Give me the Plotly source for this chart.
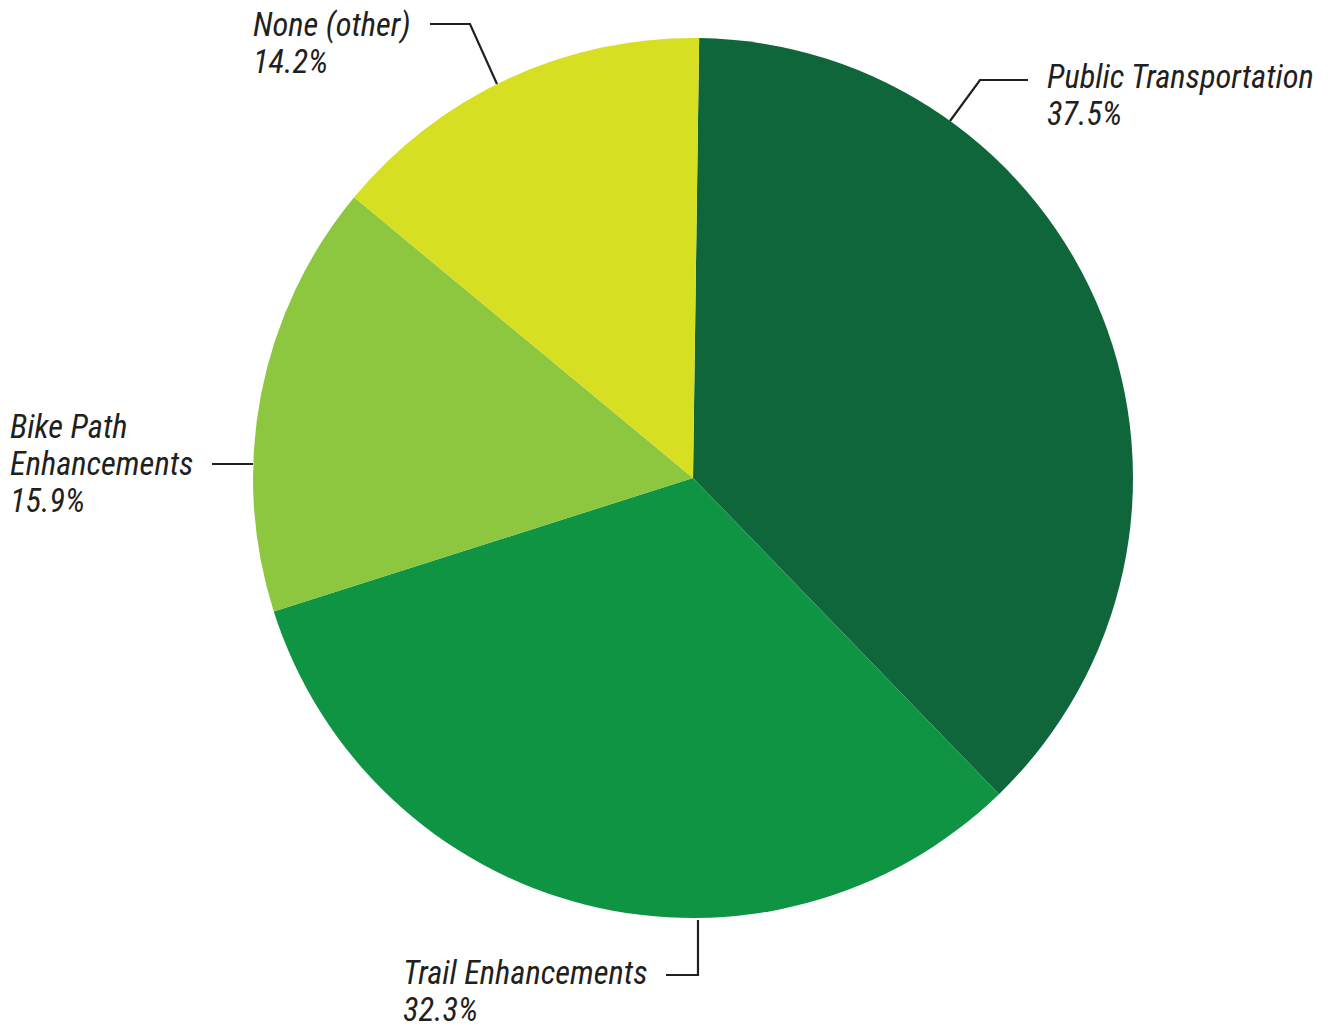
import plotly.graph_objects as go

categories = ["Public Transportation", "Trail Enhancements", "Bike Path Enhancements", "None (other)"]
label_lines = [["Public Transportation"], ["Trail Enhancements"], ["Bike Path", "Enhancements"], ["None (other)"]]
values = [37.5, 32.3, 15.9, 14.2]
colors = ["#10663B", "#0F9444", "#8DC63F", "#D7DF23"]

W, H = 1332, 1028
OFF = 0  # body margin removed via post_script
cx, cy, r = 693, 478, 440

def px(x):
    return (x - OFF) / W

def py(y):
    return 1 - (y - OFF) / H

fig = go.Figure(go.Pie(
    labels=categories,
    values=values,
    marker=dict(colors=colors, line=dict(width=0)),
    sort=False,
    direction="clockwise",
    rotation=0.8,
    textinfo="none",
    hoverinfo="label+percent",
    showlegend=False,
    domain=dict(x=[px(cx - r), px(cx + r)], y=[py(cy + r), py(cy - r)]),
))

font = dict(family="Roboto Condensed, Liberation Sans Narrow, Roboto, sans-serif", size=32.5, color="#231F20", style="italic")

# (left x, center y of first line) in reference pixels
label_pos = [(1046, 77), (402, 973), (9, 427), (252, 25)]
LINE = 37
for lines, v, (x, y) in zip(label_lines, values, label_pos):
    all_lines = lines + [f"{v}%"]
    for i, t in enumerate(all_lines):
        fig.add_annotation(
            x=px(x), y=py(y + i * LINE), xref="paper", yref="paper",
            text=t, showarrow=False, borderpad=0,
            xanchor="left", yanchor="middle", align="left", font=font,
        )

leaders = [
    [(950, 121), (980, 80), (1028, 80)],
    [(698, 920), (698, 975), (666, 975)],
    [(253, 464), (212, 464)],
    [(497, 84), (470, 24), (430, 24)],
]
for pts in leaders:
    path = "M " + " L ".join(f"{px(a):.5f},{py(b):.5f}" for a, b in pts)
    fig.add_shape(type="path", path=path, xref="paper", yref="paper",
                  line=dict(color="#231F20", width=2.2))

fig.update_layout(
    width=W, height=H,
    margin=dict(l=0, r=0, t=0, b=0),
    paper_bgcolor="white", plot_bgcolor="white",
)

fig.write_html(
    "out.html",
    config={"displayModeBar": False},
    post_script="document.body.style.margin='0';document.body.style.overflow='hidden';",
)
